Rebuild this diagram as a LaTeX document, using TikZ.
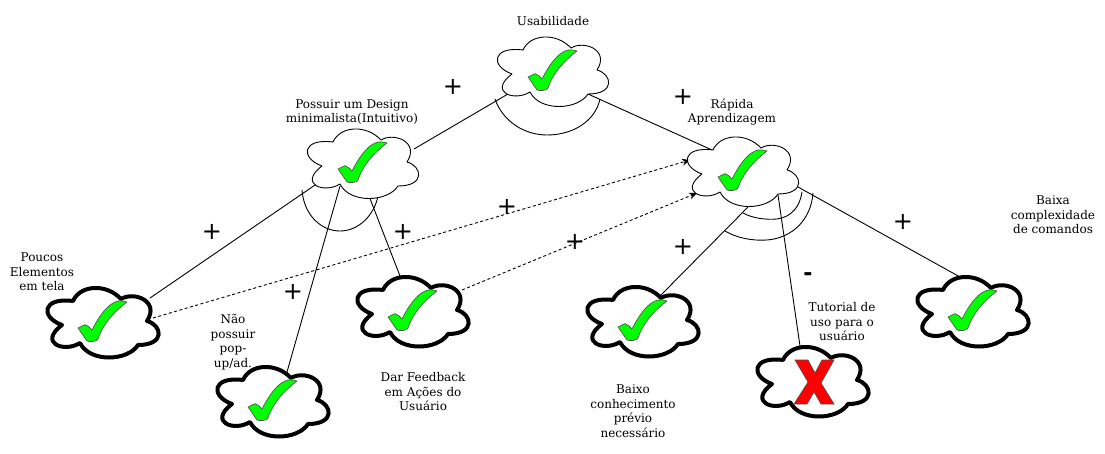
\documentclass[tikz,border=0pt]{standalone}
\usepackage{fontspec}
\setmainfont{DejaVu Serif}
\newfontfamily\signfont{DejaVu Sans}
\usetikzlibrary{arrows.meta}
\tikzset{
  cloudline/.style={draw=black,fill=white,line join=round},
  thincloud/.style={line width=0.9pt},
  thickcloud/.style={line width=4pt},
  pics/cloudshape/.style={code={
    \path[cloudline] (-31,-22) .. controls (-24,-38) and (2,-40) .. (17,-24)
      .. controls (30,-32) and (56,-22) .. (43,-2)
      .. controls (58,2) and (62,22) .. (34,22)
      .. controls (24,38) and (-14,40) .. (-24,20)
      .. controls (-40,30) and (-66,20) .. (-42,2)
      .. controls (-64,-6) and (-62,-26) .. (-31,-22) -- cycle;
    }},
  pics/tick/.style={code={
    \path[draw=black!70,line width=0.6pt,fill=green,line join=round]
      (-26,5) -- (-19,1.6) .. controls (-16,2) and (-14,5) .. (-12,7)
      .. controls (-6,-5) and (2,-17) .. (11,-21)
      .. controls (15,-23) and (20,-22) .. (23,-21)
      .. controls (14,-14) and (0,-2) .. (-6,16)
      .. controls (-8,19) and (-14,19) .. (-17,18) -- cycle;
    }},
  pics/cross/.style={code={
    \path[draw=black!70,line width=0.6pt,fill=red]
      (-19,-22) -- (-6,-22) -- (1,-9) -- (8,-22) -- (20,-22) -- (7,1) -- (20,22) -- (7,22)
      -- (0,10) -- (-7,22) -- (-20,22) -- (-6,0) -- cycle;
    }},
  lbl/.style={font=\fontsize{12}{14.5}\selectfont,align=center,inner sep=0pt,text=black},
  signlbl/.style={font=\signfont\fontsize{24}{24}\selectfont,inner sep=0pt},
  conn/.style={line width=0.9pt},
  dashconn/.style={line width=0.9pt,dash pattern=on 3pt off 2.5pt,-{Stealth[length=8pt,width=7pt]}},
  arcline/.style={line width=0.9pt},
}
\begin{document}
\begin{tikzpicture}[x=1pt,y=-1pt]
\useasboundingbox (0,0) rectangle (1105,453);
% attachment points
\coordinate (uL) at (508,94);
\coordinate (uR) at (588,94);
\coordinate (dR) at (414,149);
\coordinate (dA) at (318,183);
\coordinate (dB) at (340,186);
\coordinate (dC) at (369,196);
\coordinate (rL) at (712,150);
\coordinate (rA) at (748,207);
\coordinate (rB) at (778,195);
\coordinate (rC) at (798,187);
\coordinate (pA) at (150,298);
\coordinate (pD) at (153,318);
\coordinate (nA) at (287,372);
\coordinate (oA) at (400,276);
\coordinate (oD) at (462,290);
\coordinate (bA) at (660,296);
\coordinate (tA) at (800,346);
\coordinate (cA) at (960,277);
\coordinate (rD1) at (690,160);
\coordinate (rD2) at (697,193);
% connectors
\draw[conn] (uL) -- (dR);
\draw[conn] (uR) -- (rL);
\draw[conn] (dA) -- (pA);
\draw[conn] (dB) -- (nA);
\draw[conn] (dC) -- (oA);
\draw[conn] (rA) -- (bA);
\draw[conn] (rB) -- (tA);
\draw[conn] (rC) -- (cA);
\draw[dashconn] (pD) -- (rD1);
\draw[dashconn] (oD) -- (rD2);
% arcs
\draw[arcline] (495,99) .. controls (503,122) and (525,135) .. (547,135) .. controls (572,135) and (595,122) .. (600,99);
\draw[arcline] (302,190) .. controls (304,216) and (322,231) .. (340,231) .. controls (358,231) and (374,216) .. (378,196);
\draw[arcline] (743,213) .. controls (752,218) and (765,220) .. (777,219) .. controls (792,217) and (800,206) .. (802,192);
\draw[arcline] (725,231) .. controls (737,238) and (752,241) .. (767,240) .. controls (792,238) and (811,220) .. (813,193);
% clouds
\pic[thincloud] at (554,72) {cloudshape};
\pic at (554,72) {tick};
\pic[thincloud] at (364,164) {cloudshape};
\pic at (364,164) {tick};
\pic[thincloud] at (744,172) {cloudshape};
\pic at (744,172) {tick};
\pic[thickcloud] at (104,323) {cloudshape};
\pic at (104,323) {tick};
\pic[thickcloud] at (274,402) {cloudshape};
\pic at (274,402) {tick};
\pic[thickcloud] at (414,312) {cloudshape};
\pic at (414,312) {tick};
\pic[thickcloud] at (644,322) {cloudshape};
\pic at (644,322) {tick};
\pic[thickcloud] at (814,382) {cloudshape};
\pic at (814,382) {cross};
\pic[thickcloud] at (974,312) {cloudshape};
\pic at (974,312) {tick};
% labels
\node[lbl] (t1) at (553,21) {Usabilidade};
\node[lbl] (t2) at (352,112) {Possuir um Design\\minimalista(Intuitivo)};
\node[lbl] (t3) at (732,112) {Rápida\\ Aprendizagem};
\node[lbl] (t4) at (42,272) {Poucos\\Elementos\\em tela};
\node[lbl] (t5) at (233,342) {Não\\possuir\\pop-\\up/ad.};
\node[lbl] (t6) at (423,392) {Dar Feedback\\em Ações do\\Usuário};
\node[lbl] (t7) at (633,411) {Baixo\\conhecimento\\prévio\\necessário};
\node[lbl] (t8) at (842,322) {Tutorial de\\uso para o\\usuário};
\node[lbl] (t9) at (1053,215) {Baixa\\complexidade\\de comandos};
% signs
\node[signlbl] (s1) at (453,87) {+};
\node[signlbl] (s2) at (683,97) {+};
\node[signlbl] (s3) at (212,232) {+};
\node[signlbl] (s4) at (403,232) {+};
\node[signlbl] (s5) at (293,292) {+};
\node[signlbl] (s6) at (507,207) {+};
\node[signlbl] (s7) at (575,242) {+};
\node[signlbl] (s8) at (683,247) {+};
\node[signlbl] (s9) at (903,222) {+};
\node[signlbl,font=\signfont\bfseries\fontsize{22}{22}\selectfont] (s10) at (808,277) {-};
\end{tikzpicture}
\end{document}
